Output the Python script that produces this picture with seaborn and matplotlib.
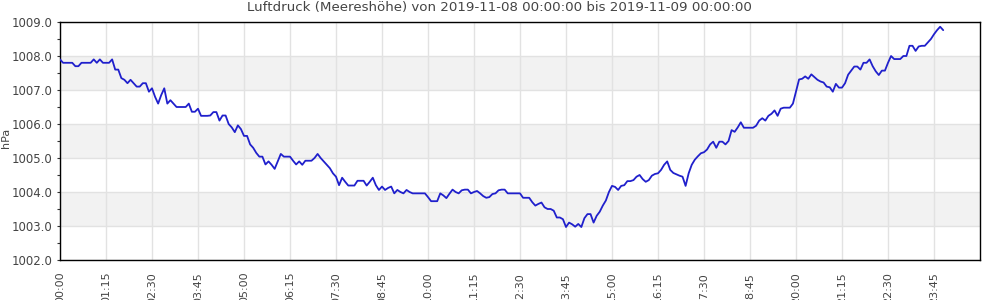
import numpy as np
import pandas as pd
import matplotlib
matplotlib.use("Agg")
import matplotlib.pyplot as plt
from matplotlib.ticker import MultipleLocator, FixedLocator
import seaborn as sns

# --- data (hPa every 5 minutes, 2019-11-08 00:00 .. 2019-11-09 00:00) ---
interval_min = 5
pressure_hpa = [
    1007.9, 1007.8, 1007.8, 1007.8, 1007.8, 1007.7, 1007.7, 1007.8, 1007.8, 1007.8, 1007.8, 1007.9,
    1007.8, 1007.9, 1007.8, 1007.8, 1007.8, 1007.9, 1007.6, 1007.6, 1007.35, 1007.3, 1007.2, 1007.3,
    1007.2, 1007.1, 1007.1, 1007.2, 1007.2, 1006.95, 1007.05, 1006.8, 1006.6, 1006.85, 1007.05, 1006.6,
    1006.7, 1006.6, 1006.5, 1006.5, 1006.5, 1006.5, 1006.6, 1006.36, 1006.36, 1006.45, 1006.24, 1006.24,
    1006.24, 1006.25, 1006.35, 1006.35, 1006.1, 1006.25, 1006.25, 1006.0, 1005.9, 1005.76, 1005.96, 1005.85,
    1005.65, 1005.65, 1005.4, 1005.3, 1005.15, 1005.04, 1005.04, 1004.81, 1004.9, 1004.8, 1004.68, 1004.9,
    1005.12, 1005.04, 1005.04, 1005.04, 1004.92, 1004.81, 1004.9, 1004.8, 1004.92, 1004.92, 1004.92, 1005.0,
    1005.12, 1005.0, 1004.9, 1004.8, 1004.7, 1004.55, 1004.45, 1004.2, 1004.42, 1004.3, 1004.19, 1004.19,
    1004.19, 1004.33, 1004.33, 1004.33, 1004.19, 1004.3, 1004.42, 1004.2, 1004.06, 1004.16, 1004.06, 1004.12,
    1004.16, 1003.96, 1004.06, 1004.0, 1003.96, 1004.06, 1004.0, 1003.96, 1003.96, 1003.96, 1003.96, 1003.96,
    1003.85, 1003.73, 1003.73, 1003.73, 1003.96, 1003.9, 1003.82, 1003.95, 1004.07, 1004.0, 1003.96, 1004.05,
    1004.07, 1004.07, 1003.96, 1004.0, 1004.03, 1003.96, 1003.88, 1003.83, 1003.85, 1003.94, 1003.96, 1004.05,
    1004.07, 1004.07, 1003.96, 1003.96, 1003.96, 1003.96, 1003.96, 1003.83, 1003.83, 1003.83, 1003.7, 1003.6,
    1003.65, 1003.69, 1003.55, 1003.5, 1003.5, 1003.45, 1003.25, 1003.25, 1003.2, 1002.97, 1003.1, 1003.05,
    1002.98, 1003.06, 1002.97, 1003.23, 1003.35, 1003.35, 1003.1, 1003.3, 1003.42, 1003.6, 1003.75, 1004.0,
    1004.18, 1004.15, 1004.06, 1004.18, 1004.2, 1004.32, 1004.32, 1004.35, 1004.45, 1004.5, 1004.38, 1004.3,
    1004.35, 1004.48, 1004.53, 1004.55, 1004.65, 1004.8, 1004.9, 1004.65, 1004.56, 1004.52, 1004.48, 1004.45,
    1004.18, 1004.55, 1004.8, 1004.95, 1005.05, 1005.14, 1005.17, 1005.25, 1005.4, 1005.48, 1005.3, 1005.48,
    1005.48, 1005.4, 1005.5, 1005.82, 1005.77, 1005.9, 1006.05, 1005.89, 1005.89, 1005.89, 1005.89, 1005.95,
    1006.1, 1006.17, 1006.1, 1006.24, 1006.3, 1006.4, 1006.24, 1006.45, 1006.48, 1006.48, 1006.48, 1006.6,
    1006.95, 1007.31, 1007.33, 1007.4, 1007.33, 1007.46, 1007.38, 1007.3, 1007.25, 1007.22, 1007.1, 1007.08,
    1006.95, 1007.18, 1007.07, 1007.07, 1007.2, 1007.45, 1007.57, 1007.69, 1007.69, 1007.6, 1007.8, 1007.8,
    1007.9, 1007.7, 1007.55, 1007.44, 1007.57, 1007.57, 1007.8, 1008.0, 1007.91, 1007.91, 1007.91, 1008.0,
    1008.0, 1008.3, 1008.3, 1008.15, 1008.28, 1008.3, 1008.3, 1008.4, 1008.5, 1008.64, 1008.76, 1008.86,
    1008.76,
]
tick_labels = ["00:00", "01:15", "02:30", "03:45", "05:00", "06:15", "07:30", "08:45", "10:00",
               "11:15", "12:30", "13:45", "15:00", "16:15", "17:30", "18:45", "20:00", "21:15",
               "22:30", "23:45"]
y_ticks = [1002.0, 1003.0, 1004.0, 1005.0, 1006.0, 1007.0, 1008.0, 1009.0]
band_starts = [1003.0, 1005.0, 1007.0]
title = "Luftdruck (Meereshöhe) von 2019-11-08 00:00:00 bis 2019-11-09 00:00:00"

minutes = [i * interval_min for i in range(len(pressure_hpa))]
df = pd.DataFrame({"minutes": minutes, "hPa": pressure_hpa})
tick_positions = [int(l[:2]) * 60 + int(l[3:]) for l in tick_labels]

sns.set_style("white")
plt.rcParams["font.family"] = ["DejaVu Sans"]

fig = plt.figure(figsize=(10, 3), dpi=100)
ax = fig.add_axes([0.06, 1 - 260 / 300, 0.92, (260 - 22) / 300])

for b in band_starts:
    ax.axhspan(b, b + 1, color="#f2f2f2", zorder=0, lw=0)

sns.lineplot(data=df, x="minutes", y="hPa", ax=ax, color="#2020cc", linewidth=1.3, zorder=3)

ax.set_xlim(0, 1500)
ax.set_ylim(1002, 1009)
ax.xaxis.set_major_locator(FixedLocator(tick_positions))
ax.set_xticklabels(tick_labels, rotation=90, fontsize=8, color="#444444")
ax.set_yticks(y_ticks)
ax.set_yticklabels([f"{v:.1f}" for v in y_ticks], fontsize=8.5, color="#444444")
ax.yaxis.set_minor_locator(MultipleLocator(0.5))
ax.tick_params(axis="x", which="both", length=0, pad=8.5)
ax.tick_params(axis="y", which="major", length=2.5, width=0.8, color="#333333", pad=3, left=True)
ax.tick_params(axis="y", which="minor", length=2.5, width=0.8, color="#333333", left=True)
ax.grid(True, which="major", color="#e2e2e2", linewidth=1.0, zorder=1)
ax.set_axisbelow(True)
for s in ax.spines.values():
    s.set_visible(True)
    s.set_color("black")
    s.set_linewidth(1.0)
ax.set_xlabel("")
ax.set_ylabel("")

fig.text(0.001, 1 - 138 / 300, "hPa", rotation=90, fontsize=8, color="#444444", ha="left", va="center")
fig.suptitle(title, x=0.499, y=0.995, va="top", fontsize=9.6, color="#444444")

fig.savefig("out.png", dpi=100)
